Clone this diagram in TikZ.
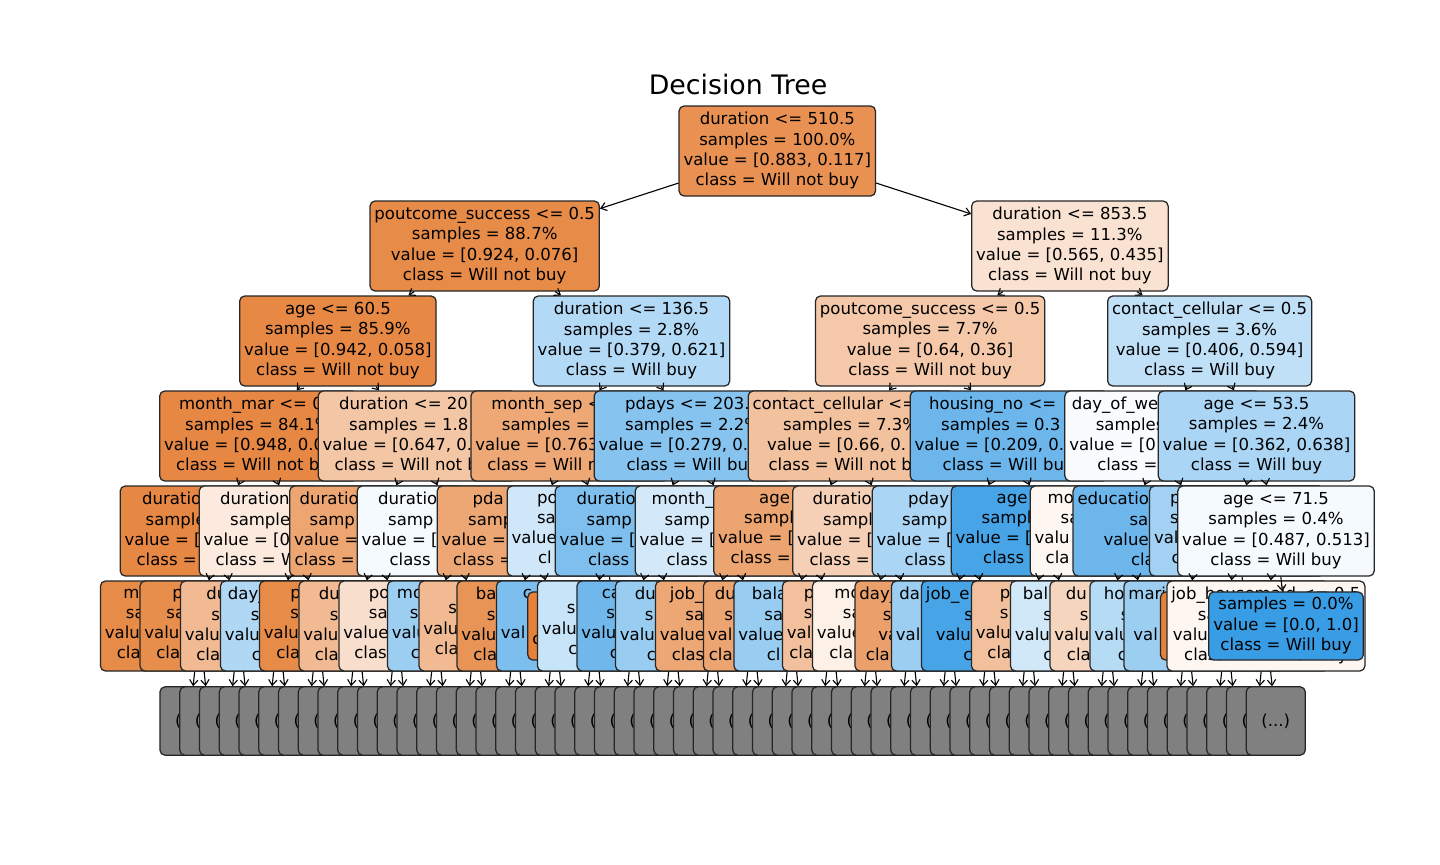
\documentclass[tikz,border=0pt]{standalone}
\usepackage{fontspec}
\setmainfont{DejaVu Sans}
\usepackage{tikz}
\usetikzlibrary{arrows.meta}

\definecolor{notbuy}{RGB}{229,129,57}
\definecolor{buy}{RGB}{57,157,229}
\newlength{\px}
\setlength{\px}{0.72pt}
\newcommand{\seen}[2]{\makebox[#1\px][l]{#2}}

\begin{document}
\begin{tikzpicture}[x=0.72pt, y=-0.72pt,
    tnode/.style={draw=black!85, line width=0.9pt, rounded corners=3.6pt, align=center,
        font=\fontsize{11.9}{14.6}\selectfont, inner xsep=3.2pt, inner ysep=2pt,
        minimum height=64.8pt, execute at begin node={\rule{0pt}{10.5pt}},
        execute at end node={\rule[-3pt]{0pt}{3pt}}},
    tleaf/.style={tnode, minimum height=49pt},
    tmore/.style={tnode, fill=gray, minimum width=42.5pt, minimum height=49.2pt},
    tlink/.style={-{Straight Barb[length=4pt,width=6pt]}, line width=0.8pt}]
    \useasboundingbox (0,0) rectangle (1440,864);
    \node (title) at (738,85) {\fontsize{19.3}{23}\selectfont Decision Tree};

    \node [tnode, fill=notbuy!87] (root) at (777.3,151) {duration <= 510.5\\samples = 100.0\%\\value = [0.883, 0.117]\\class = Will not buy};

    \node [tnode, fill=notbuy!92] (pout1) at (484.7,246) {poutcome\_success <= 0.5\\samples = 88.7\%\\value = [0.924, 0.076]\\class = Will not buy};
    \draw [tlink] (root) -- (pout1);
    \node [tnode, fill=notbuy!23] (dur853) at (1069.9,246) {duration <= 853.5\\samples = 11.3\%\\value = [0.565, 0.435]\\class = Will not buy};
    \draw [tlink] (root) -- (dur853);

    \node [tnode, fill=notbuy!94] (age60) at (337.9,341) {age <= 60.5\\samples = 85.9\%\\value = [0.942, 0.058]\\class = Will not buy};
    \draw [tlink] (pout1) -- (age60);
    \node [tnode, fill=buy!39] (dur136) at (631.5,341) {duration <= 136.5\\samples = 2.8\%\\value = [0.379, 0.621]\\class = Will buy};
    \draw [tlink] (pout1) -- (dur136);
    \node [tnode, fill=notbuy!44] (pout2) at (930.15,341) {poutcome\_success <= 0.5\\samples = 7.7\%\\value = [0.64, 0.36]\\class = Will not buy};
    \draw [tlink] (dur853) -- (pout2);
    \node [tnode, fill=buy!32] (cont) at (1209.65,341) {contact\_cellular <= 0.5\\samples = 3.6\%\\value = [0.406, 0.594]\\class = Will buy};
    \draw [tlink] (dur853) -- (cont);

    \node [tnode, fill=notbuy!95] (mar) at (258.65,436) {\seen{159}{month\_mar <= 0}\\\seen{147}{samples = 84.1\%}\\\seen{189}{value = [0.948, 0.0}\\\seen{165}{class = Will not b}};
    \draw [tlink] (age60) -- (mar);
    \node [tnode, fill=notbuy!45] (dur205) at (417.15,436) {\seen{156}{duration <= 20}\\\seen{136}{samples = 1.8}\\\seen{189}{value = [0.647, 0.}\\\seen{165}{class = Will not b}};
    \draw [tlink] (age60) -- (dur205);
    \node [tnode, fill=notbuy!69] (sep) at (569.9,436) {\seen{157}{month\_sep <}\\\seen{136}{samples =}\\\seen{189}{value = [0.763}\\\seen{165}{class = Will n}};
    \draw [tlink] (dur136) -- (sep);
    \node [tnode, fill=buy!61] (pdays) at (693.15,436) {\seen{136}{pdays <= 203.}\\\seen{136}{samples = 2.2\%}\\\seen{189}{value = [0.279, 0.}\\\seen{133}{class = Will bu}};
    \draw [tlink] (dur136) -- (pdays);
    \node [tnode, fill=notbuy!49] (cell) at (851.15,436) {\seen{197}{contact\_cellular <=}\\\seen{136}{samples = 7.3\%}\\\seen{168}{value = [0.66, 0.}\\\seen{165}{class = Will not b}};
    \draw [tlink] (pout2) -- (cell);
    \node [tnode, fill=buy!74] (housing) at (1009.15,436) {\seen{160}{housing\_no <=}\\\seen{136}{samples = 0.3}\\\seen{189}{value = [0.209, 0.}\\\seen{133}{class = Will bu}};
    \draw [tlink] (pout2) -- (housing);
    \node [tnode, fill=buy!3] (dow) at (1162.8,436) {\seen{182}{day\_of\_we}\\\seen{134}{samples}\\\seen{187}{value = [0}\\\seen{131}{class =}};
    \draw [tlink] (cont) -- (dow);
    \node [tnode, fill=buy!43] (age53) at (1256.5,436) {age <= 53.5\\samples = 2.4\%\\value = [0.362, 0.638]\\class = Will buy};
    \draw [tlink] (cont) -- (age53);

    \node [tnode, fill=notbuy!95] (q1) at (219.15,531) {\seen{154}{duration}\\\seen{147}{samples}\\\seen{189}{value = [0}\\\seen{165}{class = W}};
    \draw [tlink] (mar) -- (q1);
    \node [tnode, fill=notbuy!17] (q2) at (298.15,531) {\seen{156}{duration}\\\seen{136}{sample}\\\seen{189}{value = [0}\\\seen{165}{class = W}};
    \draw [tlink] (mar) -- (q2);
    \node [tnode, fill=notbuy!71] (q3) at (377.15,531) {\seen{155}{duratio}\\\seen{135}{samp}\\\seen{166}{value =}\\\seen{165}{class =}};
    \draw [tlink] (dur205) -- (q3);
    \node [tnode, fill=buy!5] (q4) at (456.15,531) {\seen{156}{duratio}\\\seen{136}{samp}\\\seen{189}{value = [}\\\seen{133}{class}};
    \draw [tlink] (dur205) -- (q4);
    \node [tnode, fill=notbuy!70] (q5) at (535.15,531) {\seen{125}{pda}\\\seen{134}{samp}\\\seen{187}{value =}\\\seen{164}{class =}};
    \draw [tlink] (sep) -- (q5);
    \node [tnode, fill=buy!24] (q6) at (604.6,531) {\seen{135}{po}\\\seen{135}{sa}\\\seen{186}{value}\\\seen{133}{cl}};
    \draw [tlink] (sep) -- (q6);
    \node [tnode, fill=buy!65] (q7) at (653.65,531) {\seen{154}{duratio}\\\seen{134}{samp}\\\seen{188}{value = [}\\\seen{131}{class}};
    \draw [tlink] (pdays) -- (q7);
    \node [tnode, fill=buy!22] (q8) at (732.65,531) {\seen{162}{month\_}\\\seen{136}{samp}\\\seen{186}{value = [}\\\seen{132}{class}};
    \draw [tlink] (pdays) -- (q8);
    \node [tnode, fill=notbuy!72] (q9) at (811.65,531) {\seen{105}{age}\\\seen{135}{sampl}\\\seen{187}{value = [}\\\seen{162}{class =}};
    \draw [tlink] (cell) -- (q9);
    \node [tnode, fill=notbuy!37] (q10) at (890.65,531) {\seen{156}{duratio}\\\seen{135}{sampl}\\\seen{187}{value = [}\\\seen{162}{class =}};
    \draw [tlink] (cell) -- (q10);
    \node [tnode, fill=buy!43] (q11) at (969.65,531) {\seen{123}{pday}\\\seen{135}{samp}\\\seen{186}{value = [}\\\seen{130}{class}};
    \draw [tlink] (housing) -- (q11);
    \node [tnode, fill=buy!93] (q12) at (1048.65,531) {\seen{104}{age}\\\seen{134}{sampl}\\\seen{186}{value = [}\\\seen{131}{class}};
    \draw [tlink] (housing) -- (q12);
    \node [tnode, fill=notbuy!7] (q13) at (1127.65,531) {\seen{160}{mo}\\\seen{134}{sa}\\\seen{186}{valu}\\\seen{164}{cla}};
    \draw [tlink] (dow) -- (q13);
    \node [tnode, fill=buy!74] (q14) at (1198,531) {\seen{241}{educatio}\\\seen{137}{sa}\\\seen{189}{value}\\\seen{134}{cla}};
    \draw [tlink] (dow) -- (q14);
    \node [tnode, fill=buy!47] (q15) at (1237,531) {\seen{134}{p}\\\seen{134}{s}\\\seen{166}{val}\\\seen{131}{c}};
    \draw [tlink] (age53) -- (q15);
    \node [tnode, fill=buy!5] (q16) at (1276,531) {age <= 71.5\\samples = 0.4\%\\value = [0.487, 0.513]\\class = Will buy};
    \draw [tlink] (age53) -- (q16);

    \node [tnode, fill=notbuy!92] (s0) at (199.4,626) {\seen{152}{m}\\\seen{147}{sa}\\\seen{189}{valu}\\\seen{165}{cla}};
    \draw [tlink] (q1) -- (s0);
    \node [tnode, fill=notbuy!90] (s1) at (238.9,626) {\seen{133}{p}\\\seen{145}{sa}\\\seen{189}{valu}\\\seen{165}{cla}};
    \draw [tlink] (q1) -- (s1);
    \node [tnode, fill=notbuy!55] (s2) at (278.4,626) {\seen{144}{du}\\\seen{134}{s}\\\seen{187}{valu}\\\seen{164}{cla}};
    \draw [tlink] (q2) -- (s2);
    \node [tnode, fill=buy!40] (s3) at (317.9,626) {\seen{180}{day\_}\\\seen{134}{s}\\\seen{186}{valu}\\\seen{132}{c}};
    \draw [tlink] (q2) -- (s3);
    \node [tnode, fill=notbuy!92] (s4) at (357.4,626) {\seen{134}{p}\\\seen{134}{s}\\\seen{187}{valu}\\\seen{162}{cla}};
    \draw [tlink] (q3) -- (s4);
    \node [tnode, fill=notbuy!55] (s5) at (396.9,626) {\seen{156}{du}\\\seen{134}{s}\\\seen{187}{valu}\\\seen{164}{cla}};
    \draw [tlink] (q3) -- (s5);
    \node [tnode, fill=notbuy!25] (s6) at (436.4,626) {\seen{135}{po}\\\seen{135}{sa}\\\seen{186}{value}\\\seen{164}{clas}};
    \draw [tlink] (q4) -- (s6);
    \node [tnode, fill=buy!50] (s7) at (475.9,626) {\seen{158}{mo}\\\seen{132}{s}\\\seen{168}{valu}\\\seen{130}{c}};
    \draw [tlink] (q4) -- (s7);
    \node [tnode, fill=notbuy!55] (s8) at (515.4,626) {\seen{107}{}\\\seen{134}{s}\\\seen{184}{valu}\\\seen{161}{cla}};
    \draw [tlink] (q5) -- (s8);
    \node [tnode, fill=notbuy!85] (s9) at (554.9,626) {\seen{158}{ba}\\\seen{136}{s}\\\seen{187}{valu}\\\seen{163}{cla}};
    \draw [tlink] (q5) -- (s9);
    \node [tnode, fill=buy!66] (s10) at (594.4,626) {\seen{143}{c}\\\seen{136}{}\\\seen{187}{val}\\\seen{133}{}};
    \draw [tlink] (q6) -- (s10);
    \node [tleaf, fill=notbuy] (leafa) at (614.8,626) {\seen{136}{}\\\seen{147}{}\\\seen{165}{c}};
    \draw [tlink] (q6) -- (leafa);
    \node [tnode, fill=buy!28] (s11) at (633.9,626) {\seen{110}{}\\\seen{134}{s}\\\seen{184}{valu}\\\seen{131}{c}};
    \draw [tlink] (q7) -- (s11);
    \node [tnode, fill=buy!72] (s12) at (673.4,626) {\seen{143}{ca}\\\seen{134}{s}\\\seen{184}{valu}\\\seen{127}{c}};
    \draw [tlink] (q7) -- (s12);
    \node [tnode, fill=buy!52] (s13) at (712.9,626) {\seen{156}{du}\\\seen{136}{s}\\\seen{186}{valu}\\\seen{132}{c}};
    \draw [tlink] (q8) -- (s13);
    \node [tnode, fill=notbuy!70] (s14) at (752.4,626) {\seen{165}{job\_}\\\seen{134}{sa}\\\seen{185}{value}\\\seen{161}{clas}};
    \draw [tlink] (q8) -- (s14);
    \node [tnode, fill=notbuy!72] (s15) at (791.9,626) {\seen{154}{du}\\\seen{135}{s}\\\seen{168}{val}\\\seen{166}{cla}};
    \draw [tlink] (q9) -- (s15);
    \node [tnode, fill=buy!52] (s16) at (831.4,626) {\seen{159}{bala}\\\seen{134}{sa}\\\seen{186}{value}\\\seen{129}{cl}};
    \draw [tlink] (q9) -- (s16);
    \node [tnode, fill=notbuy!50] (s17) at (870.9,626) {\seen{134}{p}\\\seen{134}{s}\\\seen{168}{val}\\\seen{163}{cla}};
    \draw [tlink] (q10) -- (s17);
    \node [tnode, fill=notbuy!12] (s18) at (910.4,626) {\seen{152}{mo}\\\seen{135}{sa}\\\seen{187}{value}\\\seen{162}{cla}};
    \draw [tlink] (q10) -- (s18);
    \node [tnode, fill=notbuy!75] (s19) at (949.9,626) {\seen{181}{day\_}\\\seen{134}{s}\\\seen{143}{va}\\\seen{168}{cla}};
    \draw [tlink] (q11) -- (s19);
    \node [tnode, fill=buy!50] (s20) at (989.4,626) {\seen{180}{da}\\\seen{136}{}\\\seen{187}{val}\\\seen{133}{}};
    \draw [tlink] (q11) -- (s20);
    \node [tnode, fill=buy!93] (s21) at (1028.9,626) {\seen{206}{job\_e}\\\seen{129}{s}\\\seen{186}{valu}\\\seen{131}{c}};
    \draw [tlink] (q12) -- (s21);
    \node [tnode, fill=notbuy!50] (s22) at (1068.4,626) {\seen{137}{p}\\\seen{137}{s}\\\seen{185}{valu}\\\seen{162}{cla}};
    \draw [tlink] (q12) -- (s22);
    \node [tnode, fill=buy!23] (s23) at (1107.9,626) {\seen{170}{bal}\\\seen{129}{s}\\\seen{186}{valu}\\\seen{129}{c}};
    \draw [tlink] (q13) -- (s23);
    \node [tnode, fill=notbuy!33] (s24) at (1147.4,626) {\seen{163}{du}\\\seen{135}{s}\\\seen{186}{valu}\\\seen{161}{cla}};
    \draw [tlink] (q13) -- (s24);
    \node [tnode, fill=buy!37] (s25) at (1186.9,626) {\seen{166}{ho}\\\seen{132}{s}\\\seen{185}{valu}\\\seen{138}{c}};
    \draw [tlink] (q14) -- (s25);
    \node [tnode, fill=buy!50] (s26) at (1226.4,626) {\seen{196}{mari}\\\seen{136}{}\\\seen{186}{val}\\\seen{133}{}};
    \draw [tlink] (q15) -- (s26);
    \node [tleaf, fill=notbuy] (leafb) at (1247.5,626) {\seen{136}{}\\\seen{147}{}\\\seen{165}{}};
    \draw [tlink] (q15) -- (leafb);
    \node [tnode, fill=notbuy!7] (s27) at (1265.9,626) {job\_housemaid <= 0.5\\\seen{136}{sa}\\\seen{186}{valu}\\class = Will not buy};
    \draw [tlink] (q16) -- (s27);
    \node [tleaf, fill=buy] (leafc) at (1286,626) {samples = 0.0\%\\value = [0.0, 1.0]\\class = Will buy};
    \draw [tlink] (q16) -- (leafc);

    \foreach \i in {0,...,55} {
        \pgfmathtruncatemacro{\k}{\i/2}
        \node [tmore] (m\i) at ({189.5+19.75*\i},721) {(...)};
        \draw [tlink] (s\k) -- (m\i);
    }
\end{tikzpicture}
\end{document}
